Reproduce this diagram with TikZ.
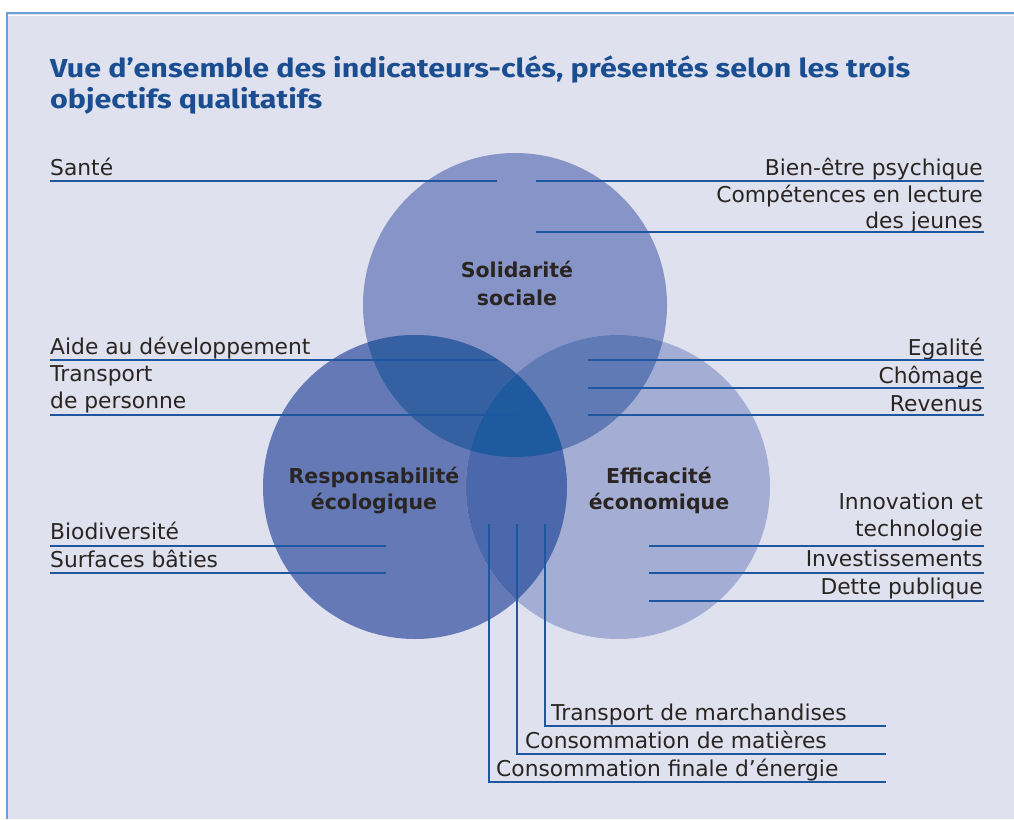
\documentclass[tikz,border=0pt]{standalone}
\usepackage{fontspec}
\setmainfont{DejaVu Sans}
\newfontfamily\titlefont{Fira Sans}
\newfontfamily\labelfont{DejaVu Sans}
\definecolor{panelbg}{HTML}{DFE1EE}
\definecolor{panelrule}{HTML}{6AA0DA}
\definecolor{ruleblue}{HTML}{1F56A0}
\definecolor{titleblue}{HTML}{1B4D91}
\definecolor{inktext}{HTML}{2A2522}
\definecolor{cSoc}{HTML}{8794C7}
\definecolor{cEco}{HTML}{6579B7}
\definecolor{cEff}{HTML}{A4AED5}
\definecolor{cSocEco}{HTML}{3561A3}
\definecolor{cSocEff}{HTML}{5F7AB5}
\definecolor{cEcoEff}{HTML}{4B68AD}
\definecolor{cAll}{HTML}{1F5A9E}
% title lines are set slightly widened
\newcommand{\widetitle}[1]{\scalebox{1.17}[1]{#1}}
\tikzset{
  lbl/.style={inner sep=0pt, text=inktext, font=\labelfont\fontsize{21.8}{27}\selectfont},
  lblL/.style={lbl, anchor=base west},
  lblR/.style={lbl, anchor=base east},
  circlbl/.style={inner sep=0pt, anchor=base, text=inktext, font=\labelfont\bfseries\fontsize{20.5}{26}\selectfont},
  titletext/.style={inner sep=0pt, anchor=base west, text=titleblue, font=\titlefont\bfseries\fontsize{26}{30}\selectfont},
  rule/.style={draw=ruleblue, line width=1.8pt},
  rulethick/.style={draw=ruleblue, line width=2.8pt},
}
\begin{document}
\begin{tikzpicture}[x=1pt, y=-1pt]
\useasboundingbox (0,0) rectangle (1014,819);
\fill[white] (0,0) rectangle (1014,819);
% panel
\fill[panelbg] (6,12) rectangle (1014,819);
\draw[white, line width=1pt] (8,15.5) -- (1014,15.5);
\draw[panelrule, line width=2.4pt] (6,13) -- (1014,13);
\draw[panelrule, line width=2.4pt] (7,12) -- (7,819);

% title
\node[titletext] (title1) at (50,77) {\widetitle{Vue d’ensemble des indicateurs-clés, présentés selon les trois}};
\node[titletext] (title2) at (50,108) {\widetitle{objectifs qualitatifs}};

% the three objectives
\coordinate (soc) at (515,305);
\coordinate (eco) at (415,487);
\coordinate (eff) at (618,487);
\def\rad{152}
\fill[cSoc] (soc) circle (\rad);
\fill[cEco] (eco) circle (\rad);
\fill[cEff] (eff) circle (\rad);
\begin{scope}
  \clip (soc) circle (\rad);
  \fill[cSocEco] (eco) circle (\rad);
  \fill[cSocEff] (eff) circle (\rad);
\end{scope}
\begin{scope}
  \clip (eco) circle (\rad);
  \fill[cEcoEff] (eff) circle (\rad);
\end{scope}
\begin{scope}
  \clip (soc) circle (\rad);
  \clip (eco) circle (\rad);
  \fill[cAll] (eff) circle (\rad);
\end{scope}

\node[circlbl] (socA) at (517,277) {Solidarité};
\node[circlbl] (socB) at (517,305) {sociale};
\node[circlbl] (ecoA) at (374,483) {Responsabilité};
\node[circlbl] (ecoB) at (374,509) {écologique};
\node[circlbl] (effA) at (659,483) {Efficacité};
\node[circlbl] (effB) at (659,509) {économique};

% left indicators
\node[lblL] (sante) at (50,175) {Santé};
\node[lblL] (aide) at (50,354) {Aide au développement};
\node[lblL] (transpA) at (50,381) {Transport};
\node[lblL] (transpB) at (50,408) {de personne};
\node[lblL] (biodiv) at (50,539) {Biodiversité};
\node[lblL] (surf) at (50,567) {Surfaces bâties};

\coordinate (santeL) at (50,181);   \coordinate (santeR) at (497,181);
\coordinate (aideL) at (50,360);    \coordinate (aideR) at (497,360);
\coordinate (transpL) at (50,415);  \coordinate (transpR) at (517,415);
\coordinate (biodivL) at (50,546);  \coordinate (biodivR) at (386,546);
\coordinate (surfL) at (50,573);    \coordinate (surfR) at (386,573);
\draw[rule] (santeL) -- (santeR);
\draw[rule] (aideL) -- (aideR);
\draw[rule] (transpL) -- (transpR);
\draw[rulethick] (biodivL) -- (biodivR);
\draw[rule] (surfL) -- (surfR);

% right indicators
\node[lblR] (bien) at (983,175) {Bien-être psychique};
\node[lblR] (compA) at (983,202) {Compétences en lecture};
\node[lblR] (compB) at (983,228) {des jeunes};
\node[lblR] (egal) at (983,355) {Egalité};
\node[lblR] (chom) at (983,383) {Chômage};
\node[lblR] (rev) at (983,411) {Revenus};
\node[lblR] (innovA) at (983,509) {Innovation et};
\node[lblR] (innovB) at (983,536) {technologie};
\node[lblR] (invest) at (983,566) {Investissements};
\node[lblR] (dette) at (983,594) {Dette publique};

\coordinate (bienL) at (536,181);   \coordinate (bienR) at (984,181);
\coordinate (compL) at (536,232);   \coordinate (compR) at (984,232);
\coordinate (egalL) at (588,360);   \coordinate (egalR) at (984,360);
\coordinate (chomL) at (588,388);   \coordinate (chomR) at (984,388);
\coordinate (revL) at (588,415);    \coordinate (revR) at (984,415);
\coordinate (innovL) at (649,546);  \coordinate (innovR) at (984,546);
\coordinate (investL) at (649,573); \coordinate (investR) at (984,573);
\coordinate (detteL) at (649,601);  \coordinate (detteR) at (984,601);
\draw[rule] (bienL) -- (bienR);
\draw[rule] (compL) -- (compR);
\draw[rule] (egalL) -- (egalR);
\draw[rule] (chomL) -- (chomR);
\draw[rule] (revL) -- (revR);
\draw[rulethick] (innovL) -- (innovR);
\draw[rule] (investL) -- (investR);
\draw[rulethick] (detteL) -- (detteR);

% bottom indicators
\node[lblL] (marchand) at (551,720) {Transport de marchandises};
\node[lblL] (matieres) at (525,748) {Consommation de matières};
\node[lblL] (energie) at (496,776) {Consommation finale d’énergie};

\coordinate (marchandT) at (545,524); \coordinate (marchandC) at (545,726); \coordinate (marchandR) at (886,726);
\coordinate (matieresT) at (517,524); \coordinate (matieresC) at (517,754); \coordinate (matieresR) at (886,754);
\coordinate (energieT) at (489,524);  \coordinate (energieC) at (489,782);  \coordinate (energieR) at (886,782);
\draw[rulethick] (marchandT) -- (marchandC) -- (marchandR);
\draw[rule] (matieresT) -- (matieresC) -- (matieresR);
\draw[rule] (energieT) -- (energieC) -- (energieR);
\end{tikzpicture}
\end{document}
